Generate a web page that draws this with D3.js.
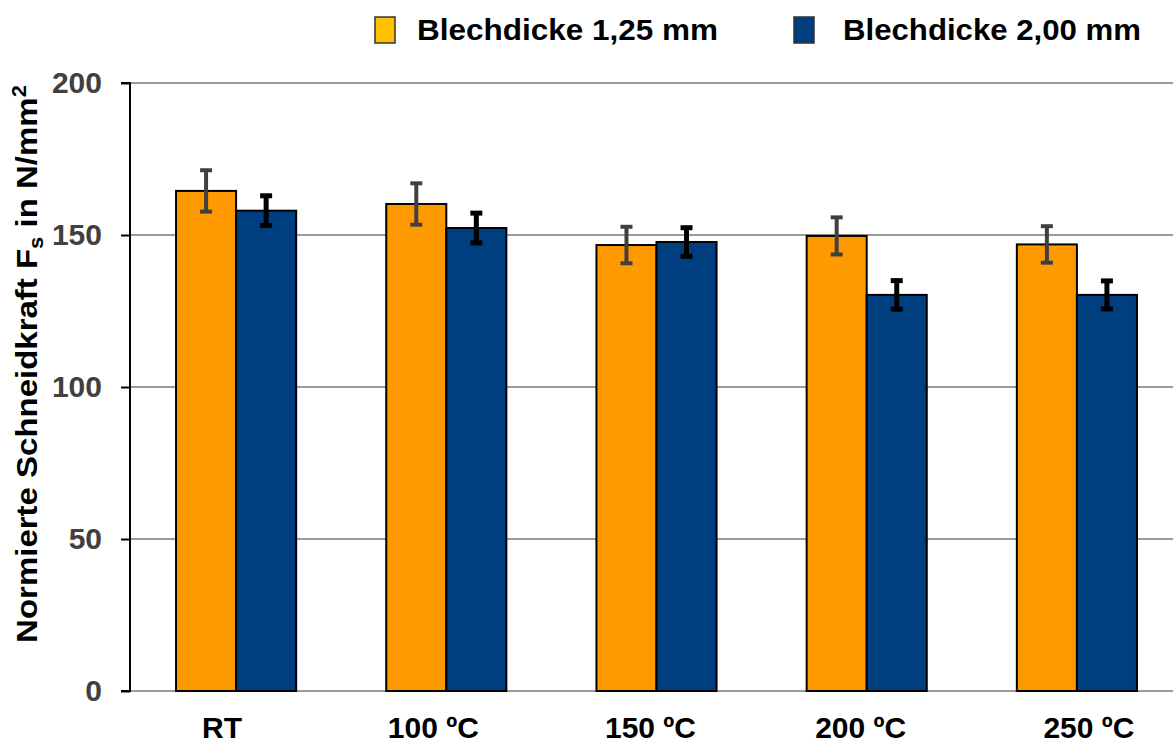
<!DOCTYPE html>
<html>
<head>
<meta charset="utf-8">
<script src="https://cdn.jsdelivr.net/npm/d3@7"></script>
<style>
  html, body { margin: 0; padding: 0; background: #fff; }
  svg { display: block; font-family: "Liberation Sans", Arial, sans-serif; font-weight: bold; }
</style>
</head>
<body>
<svg id="chart" width="1173" height="745"></svg>
<script>
const categories = ["RT", "100 ºC", "150 ºC", "200 ºC", "250 ºC"];
const seriesNames = ["Blechdicke 1,25 mm", "Blechdicke 2,00 mm"];
const values125 = [164.5, 160.2, 146.7, 149.7, 146.9];
const errors125 = [6.8, 6.8, 6.0, 6.1, 6.0];
const values200 = [158.0, 152.3, 147.7, 130.3, 130.3];
const errors200 = [4.9, 4.9, 4.7, 4.7, 4.6];
const yTicks = [0, 50, 100, 150, 200];

const W = 1173, H = 745;
const svg = d3.select("#chart");

const barColors = ["#FF9900", "#003F7F"];
const legendColors = ["#FFC000", "#003F7F"];
const errColors = ["#404040", "#000000"];
const errWidths = [4, 5];
const labelShift = [-14, -13, -6, -6, 12]; // layout: label offsets from group centre

const plotLeft = 130, plotTop = 83, plotBottom = 691;
const y = d3.scaleLinear().domain([0, 200]).range([plotBottom, plotTop]);
const x0 = d3.scaleBand().domain(categories).range([131, 131 + 5 * 210.2]).paddingInner(0).paddingOuter(0);
const x1 = d3.scaleBand().domain(seriesNames).range([0, x0.bandwidth()]).paddingInner(0).paddingOuter(0.75);

// gridlines
svg.append("g").selectAll("line").data(yTicks).join("line")
  .attr("x1", plotLeft).attr("x2", W)
  .attr("y1", d => y(d)).attr("y2", d => y(d))
  .attr("stroke", "#7a7a7a")
  .attr("stroke-width", 1.5);

// y axis
const yAxis = d3.axisLeft(y).tickValues(yTicks).tickSize(9).tickPadding(19).tickFormat(d3.format("d"));
const gy = svg.append("g").attr("transform", `translate(${plotLeft},0)`).call(yAxis);
gy.select(".domain").attr("stroke", "#000").attr("stroke-width", 2).attr("d", `M-9,${plotTop}H0V${plotBottom}H-9`);
gy.selectAll(".tick line").attr("stroke", "#000").attr("stroke-width", 2);
gy.selectAll(".tick text").attr("font-size", 30).attr("font-weight", "bold")
  .attr("fill", "#404040").attr("font-family", "Liberation Sans, Arial, sans-serif");

// bars
const data = categories.map((c, i) => ({
  cat: c,
  items: [
    { s: seriesNames[0], v: values125[i], e: errors125[i], k: 0 },
    { s: seriesNames[1], v: values200[i], e: errors200[i], k: 1 }
  ]
}));

const groups = svg.append("g").selectAll("g").data(data).join("g")
  .attr("transform", d => `translate(${x0(d.cat)},0)`);

groups.selectAll("rect").data(d => d.items).join("rect")
  .attr("x", d => x1(d.s))
  .attr("y", d => y(d.v))
  .attr("width", x1.bandwidth())
  .attr("height", d => y(0) - y(d.v))
  .attr("fill", d => barColors[d.k])
  .attr("stroke", "#000")
  .attr("stroke-width", 2);

// error bars
const eb = groups.selectAll("g.err").data(d => d.items).join("g").attr("class", "err");
eb.append("line")
  .attr("x1", d => x1(d.s) + x1.bandwidth() / 2).attr("x2", d => x1(d.s) + x1.bandwidth() / 2)
  .attr("y1", d => y(d.v + d.e)).attr("y2", d => y(d.v - d.e))
  .attr("stroke", d => errColors[d.k]).attr("stroke-width", d => errWidths[d.k]);
eb.selectAll("line.cap").data(d => [
    { ...d, yv: d.v + d.e }, { ...d, yv: d.v - d.e }
  ]).join("line").attr("class", "cap")
  .attr("x1", d => x1(d.s) + x1.bandwidth() / 2 - 6).attr("x2", d => x1(d.s) + x1.bandwidth() / 2 + 6)
  .attr("y1", d => y(d.yv)).attr("y2", d => y(d.yv))
  .attr("stroke", d => errColors[d.k]).attr("stroke-width", d => errWidths[d.k]);

// x labels
svg.append("g").selectAll("text").data(categories).join("text")
  .attr("x", (d, i) => x0(d) + x0.bandwidth() / 2 + labelShift[i]).attr("y", 738)
  .attr("text-anchor", "middle")
  .attr("font-size", 30).attr("fill", "#000")
  .text(d => d);

// legend
const legendX = [375, 794];
const legendTextX = [417, 843];
const legendTextLen = [301, 298];
const lg = svg.append("g").selectAll("g").data(seriesNames).join("g");
lg.append("rect")
  .attr("x", (d, i) => legendX[i]).attr("y", 17)
  .attr("width", 20).attr("height", 26)
  .attr("fill", (d, i) => legendColors[i])
  .attr("stroke", "#333").attr("stroke-width", 1.5);
lg.append("text")
  .attr("x", (d, i) => legendTextX[i]).attr("y", 40)
  .attr("font-size", 30).attr("fill", "#000")
  .attr("textLength", (d, i) => legendTextLen[i]).attr("lengthAdjust", "spacingAndGlyphs")
  .text(d => d);

// y title
const yt = svg.append("text")
  .attr("transform", "translate(37,364) rotate(-90) scale(1.1,1)")
  .attr("text-anchor", "middle")
  .attr("font-size", 30).attr("fill", "#000");
yt.append("tspan").text("Normierte Schneidkraft F");
yt.append("tspan").attr("font-size", 20).attr("dy", 6).text("s");
yt.append("tspan").attr("dy", -6).text(" in N/mm");
yt.append("tspan").attr("font-size", 20).attr("dy", -11).text("2");
</script>
</body>
</html>
